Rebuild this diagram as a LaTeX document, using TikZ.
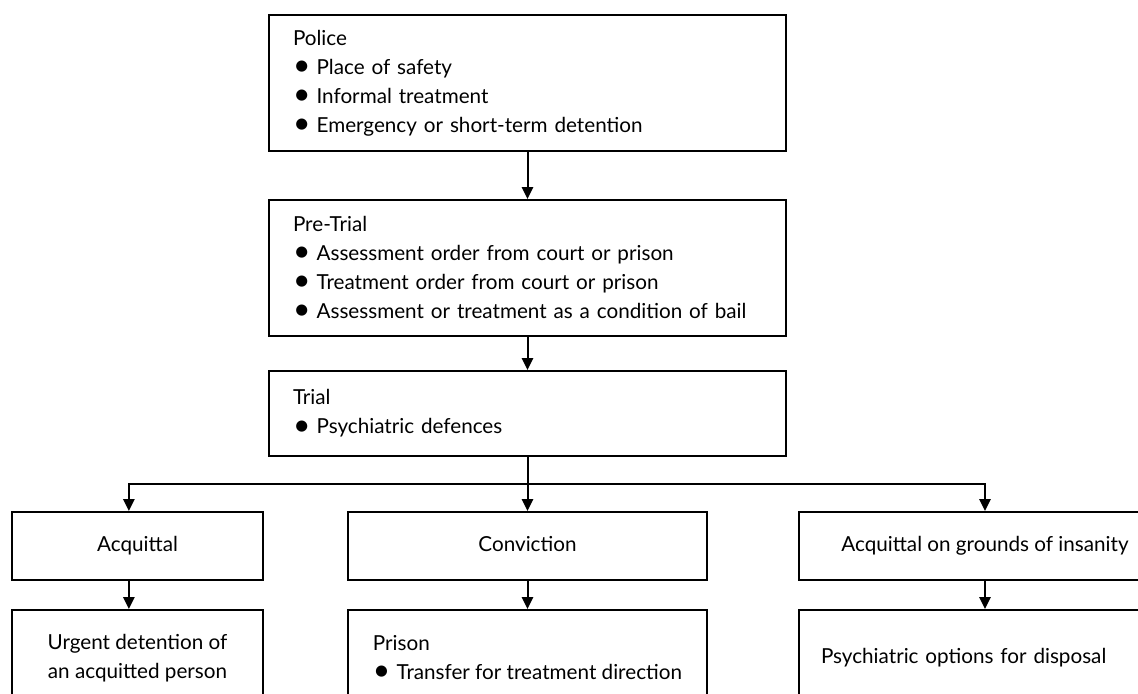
\documentclass[tikz,border=0pt]{standalone}
\usepackage{fontspec}
\setmainfont{Lato}
\usetikzlibrary{arrows.meta}

\newcommand{\blt}{\raisebox{-0.06em}{\scalebox{1.45}{\textbullet}}\hspace{0.3em}}

\tikzset{
  stage/.style={draw, line width=1.5pt, anchor=north west, align=left,
    text width=351.75pt, inner xsep=18pt, inner ysep=0pt, minimum height=#1},
  verdict/.style={draw, line width=1.5pt, anchor=north west, align=center,
    inner sep=0pt, minimum width=#1, minimum height=51pt,
    text height=11.5pt, text depth=3pt},
  outcome/.style={draw, line width=1.5pt, anchor=north west,
    inner ysep=0pt, minimum height=72pt},
  arr/.style={line width=1.5pt, -{Triangle[length=9pt,width=8.5pt]}}
}

\begin{document}
\begin{tikzpicture}[x=0.75pt,y=-0.75pt,font=\fontsize{15.5}{21.75}\selectfont]
\path[use as bounding box, clip] (0,0) rectangle (1138,693);
% stages before the verdict
\node[stage=102pt] (police) at (268,14) {Police\\
  \blt Place of safety\\
  \blt Informal treatment\\
  \blt Emergency or short-term detention};
\node[stage=102pt] (pretrial) at (268,199) {Pre-Trial\\
  \blt Assessment order from court or prison\\
  \blt Treatment order from court or prison\\
  \blt Assessment or treatment as a condition of bail};
\node[stage=63.75pt] (trial) at (268,370) {Trial\\
  \blt Psychiatric defences};
% verdicts
\node[verdict=188.25pt] (acquit) at (11,511) {Acquittal};
\node[verdict=269.25pt] (convict) at (347,511) {Conviction};
\node[verdict=279pt] (insane) at (798,511) {Acquittal on grounds of insanity};
% what follows
\node[outcome, align=center, minimum width=188.25pt, inner xsep=0pt] (urgent) at (11,609)
  {Urgent detention of\\an acquitted person};
\node[outcome, align=left, minimum width=269.25pt, inner xsep=0pt] (prison) at (347,609)
  {Prison\\ \blt Transfer for treatment direction};
\node[outcome, align=left, text width=246pt, inner xsep=16.5pt] (disposal) at (798,609)
  {Psychiatric options for disposal};
\draw[arr] (police) -- (pretrial);
\draw[arr] (pretrial) -- (trial);
\draw[arr] (trial) -- (convict);
\draw[arr] (trial.south) -- ++(0,27) -| ([xshift=-6.5pt]acquit.north);
\draw[arr] (trial.south) -- ++(0,27) -| (insane.north);
\draw[arr] ([xshift=-6.5pt]acquit.south) -- ([xshift=-6.5pt]urgent.north);
\draw[arr] (convict) -- (prison);
\draw[arr] (insane) -- (disposal);
\end{tikzpicture}
\end{document}
